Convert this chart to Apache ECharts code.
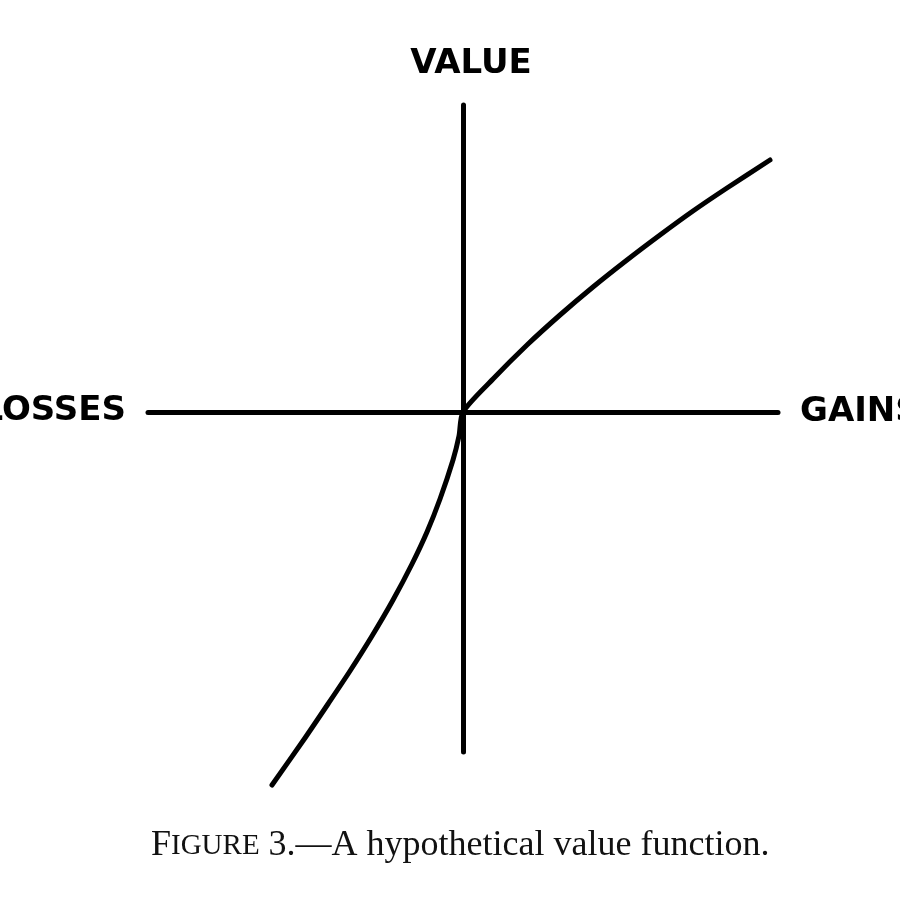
<!DOCTYPE html>
<html>
<head>
<meta charset="utf-8">
<script src="https://cdn.jsdelivr.net/npm/echarts@6/dist/echarts.min.js"></script>
<style>
  html, body { margin: 0; padding: 0; background: #ffffff; }
  #chart { width: 900px; height: 900px; }
</style>
</head>
<body>
<div id="chart"></div>
<script>
// Hypothetical value function (arbitrary units; origin = reference point)
var lossesX = [-191, -158, -135, -113, -91, -70, -51, -36, -23, -10, -4, 0];
var lossesV = [-373, -326, -292, -259, -224, -188, -152, -120, -87, -48, -24, 0];
var gainsX = [30, 64, 97, 130, 164, 197, 230, 264, 307];
var gainsV = [33, 67, 97, 125, 152, 177, 201, 224, 252];

var axisNameY = 'VALUE';
var axisNameGain = 'GAINS';
var axisNameLoss = 'LOSSES';
var captionParts = ['F', 'IGURE', ' 3.—A hypothetical value function.'];

var curve = [];
for (var i = 0; i < lossesX.length; i++) curve.push([lossesX[i], lossesV[i]]);
for (var j = 0; j < gainsX.length; j++) curve.push([gainsX[j], gainsV[j]]);

var chart = echarts.init(document.getElementById('chart'), null, { renderer: 'canvas' });
var ink = '#000000';
var sans = '"DejaVu Sans", "Liberation Sans", Arial, sans-serif';
var serif = '"Liberation Serif", "Times New Roman", serif';

chart.setOption({
  backgroundColor: '#ffffff',
  animation: false,
  title: {
    text: '{big|' + captionParts[0] + '}{sc|' + captionParts[1] + '}{big|' + captionParts[2] + '}',
    left: 146,
    top: 823,
    textStyle: {
      rich: {
        big: { fontFamily: serif, fontSize: 36, fontWeight: 'normal', color: '#111' },
        sc: { fontFamily: serif, fontSize: 29, fontWeight: 'normal', color: '#111' }
      }
    }
  },
  grid: { left: 148, right: 122, top: 105, bottom: 148, outerBoundsMode: 'none', containLabel: false },
  xAxis: {
    type: 'value',
    min: -315,
    max: 315,
    name: axisNameGain,
    nameLocation: 'end',
    nameGap: 22,
    nameTextStyle: { fontFamily: sans, fontSize: 34, fontWeight: 'bold', color: ink },
    axisLine: { onZero: true, lineStyle: { color: ink, width: 5, cap: 'round' } },
    axisTick: { show: false },
    axisLabel: { show: false },
    splitLine: { show: false }
  },
  yAxis: {
    type: 'value',
    min: -340,
    max: 307,
    name: axisNameY,
    nameLocation: 'end',
    nameGap: 24,
    nameTextStyle: { fontFamily: sans, fontSize: 34, fontWeight: 'bold', color: ink, padding: [0, 0, 0, 16] },
    axisLine: { onZero: true, lineStyle: { color: ink, width: 5, cap: 'round' } },
    axisTick: { show: false },
    axisLabel: { show: false },
    splitLine: { show: false }
  },
  graphic: [{
    type: 'text',
    right: 774,
    top: 394,
    style: {
      text: axisNameLoss,
      font: 'bold 34px "DejaVu Sans", "Liberation Sans", Arial, sans-serif',
      fill: ink
    }
  }],
  series: [{
    type: 'line',
    data: curve,
    smooth: 0.25,
    showSymbol: false,
    clip: false,
    lineStyle: { color: ink, width: 5, cap: 'round', join: 'round' }
  }]
});
</script>
</body>
</html>
